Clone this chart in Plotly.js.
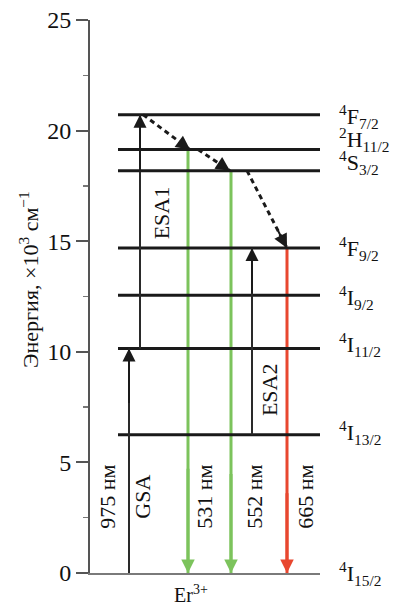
<!DOCTYPE html>
<html><head><meta charset="utf-8">
<script src="https://cdn.plot.ly/plotly-3.0.1.min.js"></script>
<style>html,body{margin:0;padding:0;background:#fff}#chart{width:393px;height:605px}</style>
</head><body><div id="chart"></div>
<script>
// Er3+ energy levels (x10^3 cm^-1)
const levelLabels = ['<sup>4</sup>I<sub>15/2</sub>', '<sup>4</sup>I<sub>13/2</sub>', '<sup>4</sup>I<sub>11/2</sub>',
  '<sup>4</sup>I<sub>9/2</sub>', '<sup>4</sup>F<sub>9/2</sub>', '<sup>4</sup>S<sub>3/2</sub>',
  '<sup>2</sup>H<sub>11/2</sub>', '<sup>4</sup>F<sub>7/2</sub>'];
const levelEnergies = [0, 6.25, 10.15, 12.56, 14.69, 18.19, 19.14, 20.72];

// Upward (absorption) transitions
const absNames = ['GSA', 'ESA1', 'ESA2'];
const absX = [3.9, 5.0, 16.2];
const absFrom = [0, 10.15, 6.25];
const absTo = [10.15, 20.72, 14.69];
const pumpLabel = '975 нм';

// Emission transitions
const emNames = ['531 нм', '552 нм', '665 нм'];
const emX = [9.8, 14.1, 19.7];
const emFrom = [19.14, 18.19, 14.69];
const emTo = [0, 0, 0];
const emColors = ['#7cc35c', '#7cc35c', '#e8472f'];

// Non-radiative relaxation (dashed)
const nrX0 = [5.3, 10.8, 15.7];
const nrX1 = [10.0, 14.0, 19.7];
const nrFrom = [20.72, 19.14, 18.19];
const nrTo = [19.14, 18.19, 14.69];

const ionLabel = 'Er<sup>3+</sup>';
const yTitle = 'Энергия, ×10<sup>3</sup> см<sup>−1</sup>';

// ---- styling / placement (not data) ----
const xMax = 23;
const levelXStart = 2.8, levelXEnd = 23;
const labelX = 24.7;
const labelShift = [0, 2, 4, -2, 0, 8, 10, -2];
const absLabelPos = [[5.3, 3.45], [7.1, 16.26], [17.9, 8.27]];
const pumpLabelPos = [1.8, 3.45];
const emLabelPos = [[11.5, 3.45], [16.5, 3.45], [21.6, 3.45]];
const serif = 'Liberation Serif, Times New Roman, serif';
const headFrac = 0.25; // portion of shaft reused to orient the arrowhead

const traces = [];
const annotations = [];
function head(x0, y0, x1, y1, color, w, size) {
  annotations.push({x: x1, y: y1, ax: x1 - (x1 - x0) * headFrac, ay: y1 - (y1 - y0) * headFrac,
    xref: 'x', yref: 'y', axref: 'x', ayref: 'y', text: '', showarrow: true,
    arrowhead: 2, arrowsize: size, arrowwidth: w, arrowcolor: color, standoff: 0, startstandoff: 0});
}
// emission arrows (drawn below level lines)
emNames.forEach((n, i) => {
  traces.push({x: [emX[i], emX[i]], y: [emFrom[i], emTo[i]], mode: 'lines', name: n,
    line: {color: emColors[i], width: 3}, hoverinfo: 'skip'});
  head(emX[i], emFrom[i], emX[i], emTo[i], emColors[i], 3, 0.9);
});
// levels
levelEnergies.forEach((e, i) => {
  if (i === 0) return; // ground level coincides with the baseline axis
  traces.push({x: [levelXStart, levelXEnd], y: [e, e], mode: 'lines', name: levelLabels[i],
    line: {color: '#1a1a1a', width: 3}, hoverinfo: 'skip'});
});
// absorption arrows
absNames.forEach((n, i) => {
  traces.push({x: [absX[i], absX[i]], y: [absFrom[i], absTo[i]], mode: 'lines', name: n,
    line: {color: '#2a2a2a', width: 2}, hoverinfo: 'skip'});
  head(absX[i], absFrom[i], absX[i], absTo[i], '#1a1a1a', 2, 1.3);
});
// relaxation
nrX0.forEach((x0, i) => {
  traces.push({x: [x0, nrX1[i]], y: [nrFrom[i], nrTo[i]], mode: 'lines',
    line: {color: '#1a1a1a', width: 3, dash: '5px,4px'}, hoverinfo: 'skip'});
  head(x0, nrFrom[i], nrX1[i], nrTo[i], '#1a1a1a', 2, 1.4);
});

levelLabels.forEach((t, i) => {
  annotations.push({x: labelX / xMax, y: levelEnergies[i], xref: 'paper', yref: 'y', text: t, showarrow: false,
    xanchor: 'left', yanchor: 'middle', yshift: labelShift[i], font: {family: serif, size: 22, color: '#111'}});
});
const rot = (x, y, t) => ({x: x, y: y, xref: 'x', yref: 'y', text: t, showarrow: false, textangle: -90,
  xanchor: 'center', yanchor: 'middle', font: {family: serif, size: 22, color: '#111'}});
annotations.push(rot(pumpLabelPos[0], pumpLabelPos[1], pumpLabel));
absNames.forEach((n, i) => annotations.push(rot(absLabelPos[i][0], absLabelPos[i][1], n)));
emNames.forEach((n, i) => annotations.push(rot(emLabelPos[i][0], emLabelPos[i][1], n)));
annotations.push({x: 10.1, y: -0.012, xref: 'x', yref: 'paper', text: ionLabel, showarrow: false,
  xanchor: 'center', yanchor: 'top', font: {family: serif, size: 20, color: '#111'}});
// y-axis title
annotations.push({x: -0.265, y: 0.53, xref: 'paper', yref: 'paper', text: yTitle, showarrow: false,
  textangle: -90, xanchor: 'center', yanchor: 'middle', font: {family: serif, size: 22, color: '#111'}});

const layout = {
  width: 393, height: 605,
  margin: {l: 90, r: 73, t: 20, b: 32},
  paper_bgcolor: '#fff', plot_bgcolor: '#fff',
  showlegend: false,
  xaxis: {range: [0, xMax], showgrid: false, zeroline: false, showticklabels: false, ticks: '',
    showline: true, linecolor: '#7a7a7a', linewidth: 2, fixedrange: true},
  yaxis: {range: [0, 25], dtick: 5, tick0: 0, showgrid: false, zeroline: false,
    showline: true, linecolor: '#555', linewidth: 2,
    ticks: 'outside', ticklen: 12, tickwidth: 2, tickcolor: '#555',
    minor: {dtick: 2.5, ticks: 'outside', ticklen: 5, tickwidth: 1.5, tickcolor: '#777'},
    tickfont: {family: serif, size: 24, color: '#111'},
    fixedrange: true},
  annotations: annotations
};
Plotly.newPlot('chart', traces, layout, {displayModeBar: false, staticPlot: true});
</script></body></html>
